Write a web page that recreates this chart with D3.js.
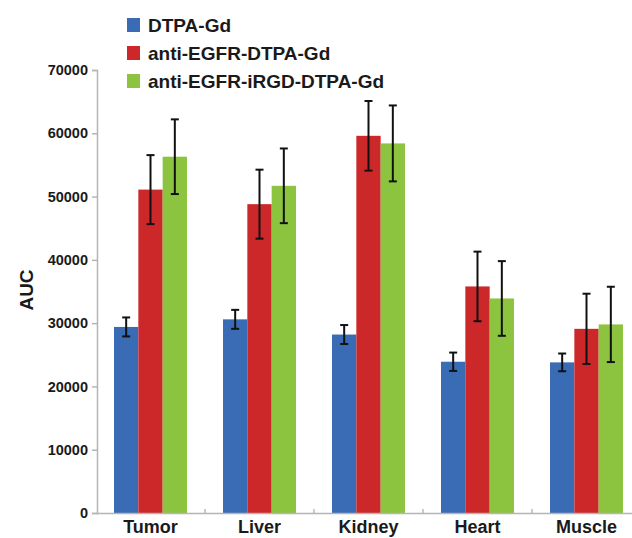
<!DOCTYPE html>
<html>
<head>
<meta charset="utf-8">
<script src="https://cdn.jsdelivr.net/npm/d3@7"></script>
<style>
  body { margin: 0; background: #fff; }
  text { font-family: "Liberation Sans", Arial, sans-serif; font-weight: bold; fill: #1a1a1a; }
</style>
</head>
<body>
<svg id="chart" width="632" height="538"></svg>
<script>
// organs on the x axis
const organs = ['Tumor', 'Liver', 'Kidney', 'Heart', 'Muscle'];
const series = ['DTPA-Gd', 'anti-EGFR-DTPA-Gd', 'anti-EGFR-iRGD-DTPA-Gd'];
const colors = ['#3a6bb5', '#cc282a', '#8cc43f'];

// mean AUC per organ, one array per series
const dtpa = [29400, 30600, 28200, 23900, 23800];
const antiEgfr = [51100, 48800, 59600, 35800, 29100];
const antiEgfrIrgd = [56300, 51700, 58400, 33900, 29800];
// error bar half-heights
const dtpaErr = [1500, 1500, 1500, 1450, 1400];
const antiEgfrErr = [5450, 5450, 5500, 5500, 5550];
const antiEgfrIrgdErr = [5900, 5900, 6000, 5900, 5950];

const yTicks = [0, 10000, 20000, 30000, 40000, 50000, 60000, 70000];

const values = [dtpa, antiEgfr, antiEgfrIrgd];
const errors = [dtpaErr, antiEgfrErr, antiEgfrIrgdErr];

const svg = d3.select('#chart');

const x0 = d3.scaleBand()
    .domain(organs)
    .range([96, 641]);

const x1 = d3.scaleBand()
    .domain(series)
    .range([0, x0.bandwidth()])
    .paddingInner(0)
    .paddingOuter(0.74);

const y = d3.scaleLinear()
    .domain([0, 70000])
    .range([513, 70]);

// y axis
const yAxisG = svg.append('g')
    .attr('transform', 'translate(97,0)')
    .call(d3.axisLeft(y).tickValues(yTicks).tickSize(5).tickPadding(4).tickFormat(d3.format('d')));
yAxisG.select('.domain').attr('stroke', '#b5b5b5').attr('stroke-width', 1.5);
yAxisG.selectAll('.tick line').attr('stroke', '#b5b5b5').attr('stroke-width', 1.5);
yAxisG.selectAll('.tick text')
    .style('font-size', '14.5px')
    .style('font-family', '"Liberation Sans", Arial, sans-serif')
    .style('font-weight', 'bold')
    .attr('fill', '#1a1a1a');

svg.append('text')
    .attr('transform', 'translate(33,290) rotate(-90)')
    .attr('text-anchor', 'middle')
    .style('font-size', '19px')
    .text('AUC');

// bars
const groups = svg.selectAll('g.organ')
    .data(organs)
    .enter().append('g')
    .attr('class', 'organ')
    .attr('transform', d => `translate(${x0(d)},0)`);

groups.selectAll('rect')
    .data((d, i) => series.map((s, j) => ({ s, v: values[j][i], e: errors[j][i], c: colors[j] })))
    .enter().append('rect')
    .attr('x', d => x1(d.s))
    .attr('y', d => y(d.v))
    .attr('width', x1.bandwidth())
    .attr('height', d => y(0) - y(d.v))
    .attr('fill', d => d.c);

// x axis
const xAxisG = svg.append('g')
    .attr('transform', 'translate(0,513)')
    .call(d3.axisBottom(x0).tickSize(0).tickSizeOuter(0).tickPadding(7));
xAxisG.select('.domain').attr('stroke', '#b5b5b5').attr('stroke-width', 1.5);
xAxisG.selectAll('.tick text')
    .style('font-size', '18px')
    .style('font-family', '"Liberation Sans", Arial, sans-serif')
    .style('font-weight', 'bold')
    .attr('fill', '#1a1a1a');

// small separator ticks between organs
svg.append('g').selectAll('line')
    .data(organs.slice(1))
    .enter().append('line')
    .attr('x1', d => x0(d))
    .attr('x2', d => x0(d))
    .attr('y1', 509)
    .attr('y2', 513)
    .attr('stroke', '#999')
    .attr('stroke-width', 1);

// error bars
const errG = groups.selectAll('g.err')
    .data((d, i) => series.map((s, j) => ({ s, v: values[j][i], e: errors[j][i] })))
    .enter().append('g')
    .attr('class', 'err')
    .attr('transform', d => `translate(${x1(d.s) + x1.bandwidth() / 2},0)`)
    .attr('stroke', '#111')
    .attr('stroke-width', 2);

errG.append('line')
    .attr('y1', d => y(d.v + d.e))
    .attr('y2', d => y(d.v - d.e));
errG.append('line')
    .attr('x1', -4).attr('x2', 4)
    .attr('y1', d => y(d.v + d.e)).attr('y2', d => y(d.v + d.e));
errG.append('line')
    .attr('x1', -4).attr('x2', 4)
    .attr('y1', d => y(d.v - d.e)).attr('y2', d => y(d.v - d.e));

// legend
const legend = svg.append('g')
    .selectAll('g')
    .data(series)
    .enter().append('g')
    .attr('transform', (d, i) => `translate(127,${25 + i * 28})`);

legend.append('rect')
    .attr('x', 0)
    .attr('y', -7)
    .attr('width', 13)
    .attr('height', 14)
    .attr('fill', (d, i) => colors[i]);

legend.append('text')
    .attr('x', 21)
    .attr('y', 7)
    .style('font-size', '19px')
    .text(d => d);
</script>
</body>
</html>
